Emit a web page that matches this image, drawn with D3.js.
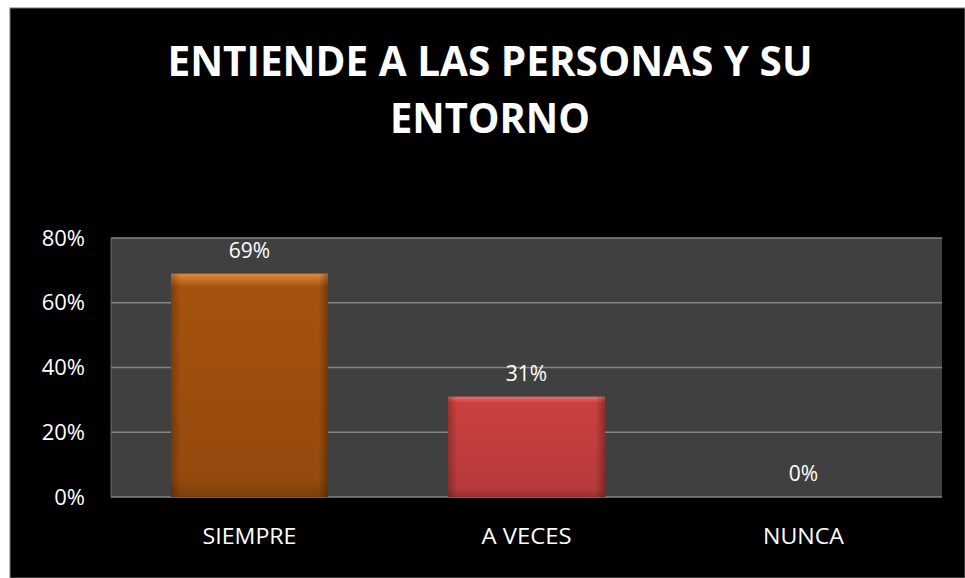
<!DOCTYPE html>
<html>
<head>
<meta charset="utf-8">
<script src="https://cdn.jsdelivr.net/npm/d3@7"></script>
<style>
  body { margin: 0; background: #fff; }
  svg { display: block; }
</style>
</head>
<body>
<div id="chart"></div>
<script>
const categories = ["SIEMPRE", "A VECES", "NUNCA"];
const values = [0.69, 0.31, 0];
const tickValues = [0, 0.2, 0.4, 0.6, 0.8];
const titleLines = ["ENTIENDE A LAS PERSONAS Y SU", "ENTORNO"];

const width = 965;
const height = 578;
const font = "'Open Sans', 'DejaVu Sans', sans-serif";

const svg = d3
  .select("#chart")
  .append("svg")
  .attr("width", width)
  .attr("height", height);

// black chart frame
svg
  .append("rect")
  .attr("x", 10)
  .attr("y", 8)
  .attr("width", width - 10)
  .attr("height", height - 8)
  .attr("fill", "#000")
  .attr("stroke", "#777")
  .attr("stroke-width", 1);

const plot = { left: 111, right: 942, top: 238, bottom: 497 };

const x = d3
  .scaleBand()
  .domain(categories)
  .range([plot.left, plot.right])
  .paddingInner(0.433)
  .paddingOuter(0.2165);

const y = d3
  .scaleLinear()
  .domain([0, 0.8])
  .range([plot.bottom, plot.top]);

// gradients for the bevelled bars
const defs = svg.append("defs");
const colors = ["#a6520f", "#cc4040", "#888"];
const tops = ["#e08a3c", "#ee7070", "#aaa"];
colors.forEach((c, i) => {
  const g = defs
    .append("linearGradient")
    .attr("id", "grad" + i)
    .attr("x1", 0).attr("y1", 0).attr("x2", 0).attr("y2", 1);
  g.append("stop").attr("offset", "0%").attr("stop-color", tops[i]);
  g.append("stop").attr("offset", "6%").attr("stop-color", c);
  g.append("stop").attr("offset", "92%").attr("stop-color", d3.color(c).darker(0.3));
  g.append("stop").attr("offset", "100%").attr("stop-color", d3.color(c).darker(0.8));
  const h = defs
    .append("linearGradient")
    .attr("id", "side" + i)
    .attr("x1", 0).attr("y1", 0).attr("x2", 1).attr("y2", 0);
  h.append("stop").attr("offset", "0%").attr("stop-color", "#000").attr("stop-opacity", 0.25);
  h.append("stop").attr("offset", "6%").attr("stop-color", "#000").attr("stop-opacity", 0);
  h.append("stop").attr("offset", "94%").attr("stop-color", "#000").attr("stop-opacity", 0);
  h.append("stop").attr("offset", "100%").attr("stop-color", "#000").attr("stop-opacity", 0.3);
});

// plot area
svg
  .append("rect")
  .attr("x", plot.left)
  .attr("y", plot.top)
  .attr("width", plot.right - plot.left)
  .attr("height", plot.bottom - plot.top)
  .attr("fill", "#404040");

// gridlines
svg
  .append("g")
  .selectAll("line")
  .data(tickValues)
  .join("line")
  .attr("x1", plot.left)
  .attr("x2", plot.right)
  .attr("y1", (d) => y(d))
  .attr("y2", (d) => y(d))
  .attr("stroke", "#858585")
  .attr("stroke-width", 1.5);

// left plot edge
svg
  .append("line")
  .attr("x1", plot.left)
  .attr("x2", plot.left)
  .attr("y1", plot.top)
  .attr("y2", plot.bottom)
  .attr("stroke", "#6a6a6a");

// y axis labels
const yAxis = d3
  .axisLeft(y)
  .tickValues(tickValues)
  .tickFormat(d3.format(".0%"))
  .tickSize(0)
  .tickPadding(26);

svg
  .append("g")
  .attr("transform", `translate(${plot.left}, 0)`)
  .call(yAxis)
  .call((g) => g.select(".domain").remove())
  .selectAll("text")
  .attr("fill", "#fff")
  .style("font-family", font)
  .style("font-size", "22px");

// x axis labels
const xAxis = d3.axisBottom(x).tickSize(0).tickPadding(32);

svg
  .append("g")
  .attr("transform", `translate(0, ${plot.bottom})`)
  .call(xAxis)
  .call((g) => g.select(".domain").remove())
  .selectAll("text")
  .attr("fill", "#fff")
  .style("font-family", font)
  .style("font-size", "21px")
  .attr("textLength", (d) => ({ SIEMPRE: 94, "A VECES": 90, NUNCA: 81 }[d]))
  .attr("lengthAdjust", "spacingAndGlyphs");

// bars
const bars = svg.append("g");
bars
  .selectAll("rect.bar")
  .data(values)
  .join("rect")
  .attr("class", "bar")
  .attr("x", (d, i) => x(categories[i]))
  .attr("y", (d) => y(d))
  .attr("width", x.bandwidth())
  .attr("height", (d) => y(0) - y(d))
  .attr("fill", (d, i) => `url(#grad${i})`);

bars
  .selectAll("rect.side")
  .data(values)
  .join("rect")
  .attr("class", "side")
  .attr("x", (d, i) => x(categories[i]))
  .attr("y", (d) => y(d))
  .attr("width", x.bandwidth())
  .attr("height", (d) => y(0) - y(d))
  .attr("fill", (d, i) => `url(#side${i})`);

// value labels
svg
  .append("g")
  .selectAll("text")
  .data(values)
  .join("text")
  .attr("x", (d, i) => x(categories[i]) + x.bandwidth() / 2)
  .attr("y", (d) => y(d) - 16)
  .attr("text-anchor", "middle")
  .attr("fill", "#fff")
  .style("font-family", font)
  .style("font-size", "21px")
  .text((d) => d3.format(".0%")(d));

// title, one text block with two lines
const title = svg
  .append("text")
  .attr("text-anchor", "middle")
  .attr("fill", "#fff")
  .style("font-family", font)
  .style("font-weight", "bold")
  .style("font-size", "41.5px");

title
  .selectAll("tspan")
  .data(titleLines)
  .join("tspan")
  .attr("x", 490)
  .attr("y", (d, i) => 76 + i * 57)
  .attr("textLength", (d, i) => (i === 0 ? 645 : 200))
  .attr("lengthAdjust", "spacingAndGlyphs")
  .text((d) => d);
</script>
</body>
</html>
